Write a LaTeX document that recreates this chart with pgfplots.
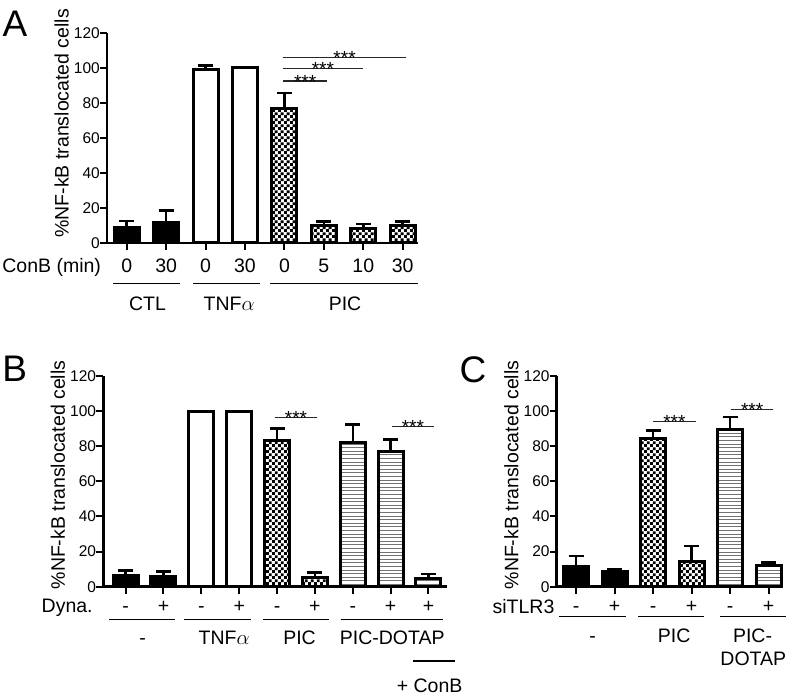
\documentclass[border=0pt]{standalone}
\usepackage{fontspec}
\setmainfont{Liberation Sans}
\usepackage{pgfplots}
\pgfplotsset{compat=1.18}
\usetikzlibrary{patterns}

\pgfdeclarepatternformonly{mycheck}{\pgfpointorigin}{\pgfqpoint{6.2pt}{6.2pt}}{\pgfqpoint{6.2pt}{6.2pt}}{%
  \pgfpathrectangle{\pgfpointorigin}{\pgfqpoint{3.15pt}{3.15pt}}%
  \pgfpathrectangle{\pgfqpoint{3.1pt}{3.1pt}}{\pgfqpoint{3.15pt}{3.15pt}}%
  \pgfusepath{fill}}
\pgfdeclarepatternformonly{myhlines}{\pgfqpoint{-1pt}{-1pt}}{\pgfqpoint{11pt}{1pt}}{\pgfqpoint{10pt}{3.6pt}}{%
  \pgfsetlinewidth{0.9pt}%
  \pgfpathmoveto{\pgfqpoint{-1pt}{0pt}}\pgfpathlineto{\pgfqpoint{11pt}{0pt}}\pgfusepath{stroke}}

\newcommand\fxl{\fontsize{19.5}{22}\selectfont}
\newcommand\fyt{\fontsize{15.5}{18}\selectfont}
\newcommand\fst{\fontsize{19}{20}\selectfont}
\newcommand\fpl{\fontsize{37}{40}\selectfont}

\tikzset{sig/.style={black!85, line width=1.2pt}}
\pgfplotsset{
  panel/.style={
    scale only axis, axis lines=left, axis line style={-, line width=2.5pt},
    ymin=0, ymax=120, ytick={0,20,...,120},
    tick align=outside, major tick length=7pt,
    tick style={line width=2pt, black},
    yticklabel style={font=\fyt, inner sep=0pt},
    xticklabel style={font=\fxl, anchor=base, inner sep=0pt},
    ybar, bar width=25pt, clip=false,
    /pgf/number format/assume math mode=true,
    error bars/y dir=plus, error bars/y explicit,
    error bars/error bar style={line width=2.5pt, black},
    error bars/error mark options={rotate=90, line width=2.5pt, mark size=7.5pt, black},
  },
  blk/.style={draw=black, fill=black, line width=3pt, bar shift=0pt},
  wht/.style={draw=black, fill=white, line width=3pt, bar shift=0pt},
  chk/.style={draw=black, pattern=mycheck, pattern color=black, line width=3pt, bar shift=0pt},
  hln/.style={draw=black, pattern=myhlines, pattern color=black!55, line width=3pt, bar shift=0pt},
}

\begin{document}
\begin{tikzpicture}
\useasboundingbox (0pt,0pt) rectangle (791pt,696pt);

% ---------------- Panel A ----------------
\begin{axis}[panel, at={(107pt,453pt)}, anchor=south west,
  width=311.3pt, height=210pt, xmin=-0.4996, xmax=7.395,
  xtick={0,...,7}, xticklabels={0,30,0,30,0,5,10,30},
  xticklabel style={yshift=-22.7pt}]
\addplot[blk] coordinates {(0,9.1) +- (0,3.6) (1,11.8) +- (0,6.7)};
\addplot[wht] coordinates {(2,99.0) +- (0,2.5) (3,100.0) +- (0,0.6)};
\addplot[chk] coordinates {(4,76.6) +- (0,9.1) (5,9.9) +- (0,2.3) (6,8.0) +- (0,2.8) (7,9.9) +- (0,2.3)};
\draw[sig] (axis cs:3.97,92.6) -- (axis cs:5.08,92.6);
\draw[sig] (axis cs:3.97,99.8) -- (axis cs:5.98,99.8);
\draw[sig] (axis cs:3.97,106.1) -- (axis cs:7.08,106.1);
\node[font=\fst, anchor=base, inner sep=0pt, yshift=-7.2pt] at (axis cs:4.525,92.6) {***};
\node[font=\fst, anchor=base, inner sep=0pt, yshift=-7.2pt] at (axis cs:4.975,99.8) {***};
\node[font=\fst, anchor=base, inner sep=0pt, yshift=-7.2pt] at (axis cs:5.525,106.1) {***};
\end{axis}
\node[rotate=90, font=\fxl, inner sep=0pt] at (61.7pt,572.7pt) {\%NF-kB translocated cells};
\node[font=\fpl, inner sep=0pt] at (15pt,672.5pt) {A};
\node[font=\fxl, anchor=base, inner sep=0pt] at (51.7pt,423.3pt) {ConB (min)};
\draw[line width=1.2pt] (113.3pt,412.3pt) -- (180pt,412.3pt);
\draw[line width=1.2pt] (193.3pt,412.3pt) -- (260pt,412.3pt);
\draw[line width=1.2pt] (270pt,412.3pt) -- (418.3pt,412.3pt);
\node[font=\fxl, anchor=base, inner sep=0pt] at (147.5pt,385.7pt) {CTL};
\node[font=\fxl, anchor=base, inner sep=0pt] at (229.2pt,385.7pt) {TNF$\alpha$};
\node[font=\fxl, anchor=base, inner sep=0pt] at (345pt,385.7pt) {PIC};

% ---------------- Panel B ----------------
\begin{axis}[panel, at={(103.3pt,109.3pt)}, anchor=south west,
  width=343.7pt, height=210.7pt, xmin=-0.59, xmax=8.49,
  xtick={0,...,8}, xticklabels={-,+,-,+,-,+,-,+,+},
  xticklabel style={yshift=-18.5pt}]
\addplot[blk] coordinates {(0,6.1) +- (0,3.0) (1,5.7) +- (0,3.0)};
\addplot[wht] coordinates {(2,100) +- (0,0) (3,100) +- (0,0)};
\addplot[chk] coordinates {(4,83.1) +- (0,6.9) (5,5.0) +- (0,3.0)};
\addplot[hln] coordinates {(6,82.4) +- (0,9.9) (7,76.9) +- (0,7.0) (8,4.6) +- (0,2.5)};
\draw[sig] (axis cs:3.94,96.2) -- (axis cs:5.06,96.2);
\draw[sig] (axis cs:7.03,91.1) -- (axis cs:8.15,91.1);
\node[font=\fst, anchor=base, inner sep=0pt, yshift=-7.2pt] at (axis cs:4.5,96.2) {***};
\node[font=\fst, anchor=base, inner sep=0pt, yshift=-7.2pt] at (axis cs:7.59,91.1) {***};
\end{axis}
\node[rotate=90, font=\fxl, inner sep=0pt] at (57.8pt,221pt) {\%NF-kB translocated cells};
\node[font=\fpl, inner sep=0pt] at (14.6pt,327pt) {B};
\node[font=\fxl, anchor=base, inner sep=0pt] at (67.2pt,84pt) {Dyna.};
\draw[line width=1.2pt] (109.3pt,76.7pt) -- (175pt,76.7pt);
\draw[line width=1.2pt] (184.3pt,76.7pt) -- (250.7pt,76.7pt);
\draw[line width=1.2pt] (263.3pt,76.7pt) -- (329.3pt,76.7pt);
\draw[line width=1.2pt] (340.7pt,76.7pt) -- (443.3pt,76.7pt);
\node[font=\fxl, anchor=base, inner sep=0pt] at (142.7pt,51.3pt) {-};
\node[font=\fxl, anchor=base, inner sep=0pt] at (224.2pt,51.3pt) {TNF$\alpha$};
\node[font=\fxl, anchor=base, inner sep=0pt] at (299.5pt,51.3pt) {PIC};
\node[font=\fxl, anchor=base, inner sep=0pt] at (392.2pt,51.3pt) {PIC-DOTAP};
\draw[line width=1.2pt] (413pt,35pt) -- (455pt,35pt);
\node[font=\fxl, anchor=base, inner sep=0pt] at (429.6pt,4pt) {+ ConB};

% ---------------- Panel C ----------------
\begin{axis}[panel, at={(556.7pt,109.3pt)}, anchor=south west,
  width=226.6pt, height=210.7pt, xmin=-0.506, xmax=5.38,
  xtick={0,...,5}, xticklabels={-,+,-,+,-,+},
  xticklabel style={yshift=-19pt}]
\addplot[blk] coordinates {(0,11.4) +- (0,6.1) (1,8.5) +- (0,1.4)};
\addplot[chk] coordinates {(2,84.4) +- (0,4.7) (3,14.2) +- (0,9.1)};
\addplot[hln] coordinates {(4,89.5) +- (0,7.2) (5,12.0) +- (0,1.7)};
\draw[sig] (axis cs:2.0,94.3) -- (axis cs:3.10,94.3);
\draw[sig] (axis cs:4.03,100.9) -- (axis cs:5.11,100.9);
\node[font=\fst, anchor=base, inner sep=0pt, yshift=-7.2pt] at (axis cs:2.55,94.3) {***};
\node[font=\fst, anchor=base, inner sep=0pt, yshift=-7.2pt] at (axis cs:4.57,100.9) {***};
\end{axis}
\node[rotate=90, font=\fxl, inner sep=0pt] at (511.5pt,221pt) {\%NF-kB translocated cells};
\node[font=\fpl, inner sep=0pt] at (473pt,326pt) {C};
\node[font=\fxl, anchor=base, inner sep=0pt] at (523.5pt,82.3pt) {siTLR3};
\draw[line width=1.2pt] (559.3pt,79.3pt) -- (626pt,79.3pt);
\draw[line width=1.2pt] (638.3pt,79.3pt) -- (704.3pt,79.3pt);
\draw[line width=1.2pt] (720pt,79.3pt) -- (785.7pt,79.3pt);
\node[font=\fxl, anchor=base, inner sep=0pt] at (592.7pt,54pt) {-};
\node[font=\fxl, anchor=base, inner sep=0pt] at (674.2pt,54pt) {PIC};
\node[font=\fxl, anchor=base, inner sep=0pt] at (752.5pt,54pt) {PIC-};
\node[font=\fxl, anchor=base, inner sep=0pt] at (753.3pt,30.7pt) {DOTAP};
\end{tikzpicture}
\end{document}
